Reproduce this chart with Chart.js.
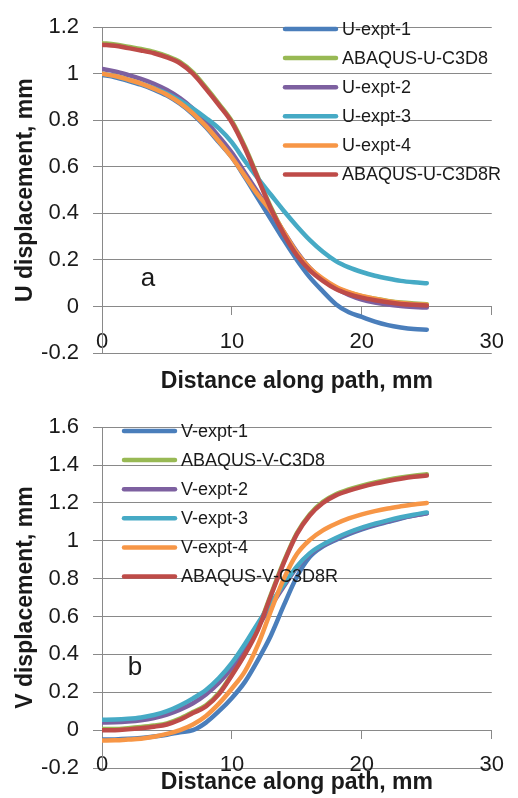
<!DOCTYPE html>
<html>
<head>
<meta charset="utf-8">
<script src="https://cdn.jsdelivr.net/npm/chart.js@4.4.1/dist/chart.umd.min.js"></script>
<style>
  html, body { margin: 0; padding: 0; background: #fff; }
  canvas { position: absolute; left: 0; }
  #chartU { top: 0; }
  #chartV { top: 400px; }
</style>
</head>
<body>
<canvas id="chartU" width="518" height="400"></canvas>
<canvas id="chartV" width="518" height="398"></canvas>
<script>
// distance along path, mm
const distance = [0, 1, 2, 3, 4, 5, 6, 7, 8, 9, 10, 11, 12, 13, 14, 15, 16, 17, 18, 19, 20, 21, 22, 23, 24, 25];
const xTicks = [0, 10, 20, 30];

// U displacement, mm (chart a)
const uNames = ['U-expt-1', 'ABAQUS-U-C3D8', 'U-expt-2', 'U-expt-3', 'U-expt-4', 'ABAQUS-U-C3D8R'];
const uExpt1 = [0.995, 0.985, 0.97, 0.953, 0.932, 0.906, 0.871, 0.826, 0.77, 0.705, 0.64, 0.555, 0.465, 0.375, 0.285, 0.2, 0.125, 0.065, 0.01, -0.025, -0.045, -0.065, -0.08, -0.09, -0.097, -0.1];
const uC3D8 = [1.131, 1.126, 1.116, 1.106, 1.094, 1.076, 1.051, 1.006, 0.941, 0.871, 0.796, 0.686, 0.556, 0.426, 0.316, 0.226, 0.161, 0.116, 0.081, 0.059, 0.044, 0.033, 0.024, 0.017, 0.013, 0.01];
const uExpt2 = [1.02, 1.01, 0.995, 0.978, 0.957, 0.93, 0.895, 0.85, 0.795, 0.73, 0.66, 0.575, 0.49, 0.405, 0.32, 0.235, 0.165, 0.115, 0.078, 0.05, 0.03, 0.017, 0.008, 0.002, -0.002, -0.005];
const uExpt3 = [1.0, 0.99, 0.975, 0.958, 0.938, 0.915, 0.885, 0.85, 0.81, 0.765, 0.705, 0.625, 0.55, 0.48, 0.41, 0.345, 0.285, 0.235, 0.195, 0.168, 0.148, 0.132, 0.12, 0.11, 0.104, 0.1];
const uExpt4 = [1.0, 0.99, 0.975, 0.958, 0.936, 0.91, 0.875, 0.83, 0.775, 0.71, 0.64, 0.56, 0.48, 0.41, 0.32, 0.23, 0.165, 0.12, 0.085, 0.062, 0.045, 0.033, 0.023, 0.015, 0.01, 0.007];
const uC3D8R = [1.125, 1.12, 1.11, 1.1, 1.088, 1.07, 1.045, 1.0, 0.935, 0.865, 0.79, 0.68, 0.55, 0.42, 0.31, 0.22, 0.155, 0.11, 0.075, 0.053, 0.038, 0.027, 0.018, 0.011, 0.007, 0.004];
const uTicks = [-0.2, 0, 0.2, 0.4, 0.6, 0.8, 1, 1.2];

// V displacement, mm (chart b)
const vNames = ['V-expt-1', 'ABAQUS-V-C3D8', 'V-expt-2', 'V-expt-3', 'V-expt-4', 'ABAQUS-V-C3D8R'];
const vExpt1 = [-0.05, -0.049, -0.046, -0.041, -0.034, -0.024, -0.011, 0.0, 0.04, 0.1, 0.17, 0.255, 0.37, 0.5, 0.66, 0.81, 0.915, 0.97, 1.005, 1.035, 1.06, 1.082, 1.1, 1.118, 1.133, 1.145];
const vC3D8 = [0.006, 0.006, 0.01, 0.016, 0.024, 0.036, 0.061, 0.096, 0.131, 0.196, 0.296, 0.406, 0.536, 0.716, 0.891, 1.041, 1.141, 1.206, 1.246, 1.271, 1.291, 1.308, 1.322, 1.334, 1.344, 1.351];
const vExpt2 = [0.04, 0.041, 0.045, 0.052, 0.064, 0.082, 0.108, 0.142, 0.188, 0.25, 0.33, 0.43, 0.545, 0.655, 0.76, 0.86, 0.93, 0.975, 1.01, 1.04, 1.065, 1.085, 1.103, 1.12, 1.133, 1.145];
const vExpt3 = [0.055, 0.056, 0.06, 0.067, 0.08, 0.1, 0.13, 0.168, 0.212, 0.275, 0.355, 0.455, 0.565, 0.67, 0.77, 0.865, 0.935, 0.98, 1.015, 1.045, 1.07, 1.09, 1.108, 1.124, 1.138, 1.15];
const vExpt4 = [-0.055, -0.054, -0.05, -0.045, -0.035, -0.02, 0.0, 0.03, 0.075, 0.14, 0.22, 0.31, 0.45, 0.63, 0.8, 0.93, 1.005, 1.055, 1.09, 1.118, 1.14, 1.157, 1.171, 1.182, 1.192, 1.2];
const vC3D8R = [0.0, 0.0, 0.004, 0.01, 0.018, 0.03, 0.055, 0.09, 0.125, 0.19, 0.29, 0.4, 0.53, 0.71, 0.885, 1.035, 1.135, 1.2, 1.24, 1.265, 1.285, 1.302, 1.316, 1.328, 1.338, 1.345];
const vTicks = [-0.2, 0, 0.2, 0.4, 0.6, 0.8, 1, 1.2, 1.4, 1.6];

const colors = ['#4A7EBB', '#98B954', '#7D60A0', '#46AAC5', '#F79646', '#BE4B48'];
const GRID = '#898989';
const TEXT = '#1a1a1a';

Chart.defaults.font.family = "'Liberation Sans', Arial, sans-serif";
Chart.defaults.color = TEXT;

function toDatasets(names, series) {
  return names.map((name, i) => ({
    label: name,
    data: distance.map((x, k) => ({ x, y: series[i][k] })),
    borderColor: colors[i],
    backgroundColor: colors[i],
    borderWidth: 4.5,
    pointRadius: 0,
    cubicInterpolationMode: 'monotone',
    borderCapStyle: 'round',
    fill: false,
    order: names.length - i   // later series drawn on top, like the original
  }));
}

// legend, panel letter and x title drawn inside the canvas
function overlay(names, lx, ly, letter, letterX, letterY, titleY) {
  return {
    id: 'overlay',
    afterDraw(chart) {
      const ctx = chart.ctx;
      const area = chart.chartArea;
      ctx.save();
      ctx.lineCap = 'round';
      ctx.textBaseline = 'middle';
      ctx.textAlign = 'left';
      ctx.font = "18px 'Liberation Sans', Arial, sans-serif";
      names.forEach((name, i) => {
        const y = ly + i * 29.1;
        ctx.strokeStyle = colors[i];
        ctx.lineWidth = 4.5;
        ctx.beginPath();
        ctx.moveTo(lx + 2, y);
        ctx.lineTo(lx + 53, y);
        ctx.stroke();
        ctx.fillStyle = TEXT;
        ctx.fillText(name, lx + 59, y + 1);
      });
      ctx.textAlign = 'center';
      ctx.font = "26px 'Liberation Sans', Arial, sans-serif";
      ctx.fillText(letter, letterX, letterY);
      ctx.font = "bold 23px 'Liberation Sans', Arial, sans-serif";
      ctx.fillText('Distance along path, mm', (area.left + area.right) / 2, titleY);
      ctx.restore();
    }
  };
}

function makeChart(id, names, series, yTicks, yTitle, padding, plugin) {
  return new Chart(document.getElementById(id), {
    type: 'line',
    data: { datasets: toDatasets(names, series) },
    options: {
      responsive: false,
      animation: false,
      layout: { padding },
      plugins: { legend: { display: false }, tooltip: { enabled: false } },
      scales: {
        x: {
          type: 'linear',
          position: { y: 0 },
          min: xTicks[0],
          max: xTicks[xTicks.length - 1],
          afterBuildTicks: s => { s.ticks = xTicks.map(v => ({ value: v })); },
          ticks: { padding: 14, font: { size: 22 }, color: TEXT },
          grid: { drawOnChartArea: false, drawTicks: true, tickLength: 8, color: GRID },
          border: { display: true, color: GRID, width: 1 }
        },
        y: {
          min: yTicks[0],
          max: yTicks[yTicks.length - 1],
          afterBuildTicks: s => { s.ticks = yTicks.map(v => ({ value: v })); },
          afterFit: s => { s.width = 102; },
          ticks: {
            padding: 14,
            font: { size: 22 },
            color: TEXT,
            callback: v => String(Number(v.toFixed(2)))
          },
          grid: { color: GRID, tickLength: 9, lineWidth: 1 },
          border: { display: true, color: GRID, width: 1 },
          title: {
            display: true,
            text: yTitle,
            color: TEXT,
            font: { size: 23, weight: 'bold' },
            padding: { top: 12, bottom: 0 }
          }
        }
      }
    },
    plugins: [plugin]
  });
}

makeChart('chartU', uNames, [uExpt1, uC3D8, uExpt2, uExpt3, uExpt4, uC3D8R], uTicks,
  'U displacement, mm', { left: 0, top: 20, right: 26, bottom: 47 },
  overlay(uNames, 283, 29, 'a', 148, 279, 382));

makeChart('chartV', vNames, [vExpt1, vC3D8, vExpt2, vExpt3, vExpt4, vC3D8R], vTicks,
  'V displacement, mm', { left: 0, top: 15, right: 18, bottom: 30 },
  overlay(vNames, 122, 31, 'b', 135, 268, 383));
</script>
</body>
</html>
